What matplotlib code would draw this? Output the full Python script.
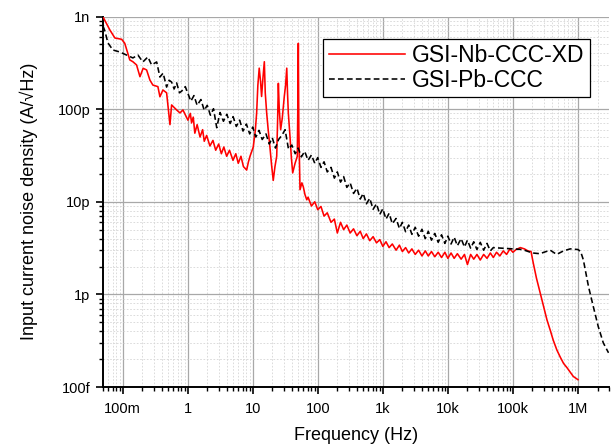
import numpy as np
import matplotlib
matplotlib.use("Agg")
import matplotlib.pyplot as plt
from matplotlib.ticker import LogLocator, NullFormatter

plt.rcParams['font.family'] = ['Liberation Sans', 'DejaVu Sans']

# GSI-Nb-CCC-XD (red), noise in pA/sqrt(Hz)
nb_low_f = [0.05, 0.0638, 0.0762, 0.0966, 0.108, 0.129, 0.144, 0.164, 0.185, 0.207, 0.234,
            0.263, 0.292, 0.349, 0.375, 0.417, 0.475, 0.535, 0.567, 0.677, 0.762, 0.847,
            1.01, 1.1, 1.15, 1.22, 1.29, 1.4, 1.55, 1.7, 1.8, 1.96, 2.2, 2.45, 2.7, 3.0,
            3.3, 3.6, 3.98, 4.4, 4.98, 5.5, 6.0, 6.6, 7.2, 8.08, 8.6]
nb_low_v = [990, 715, 586, 568, 514, 340, 325, 300, 224, 276, 265,
            206, 182, 175, 136, 161, 150, 68, 111, 98, 91, 98,
            76, 90, 71, 82, 55, 68, 50, 60, 45, 52, 40, 46, 36, 42,
            33, 39, 31, 36, 28, 33, 26, 31, 24, 22, 27]
nb_spike_f = [9.1, 10.2, 11.0, 11.5, 12.0, 12.6, 13.2, 13.7, 14.4, 15.1, 15.6, 16.4, 17.3,
              18.4, 19.5, 20.7, 22, 23.4, 24.2, 24.8, 25.6, 26.9, 28.5, 30.6, 32, 33.4,
              34.3, 35.3, 37.5, 39.3, 41.2, 44.8, 48.5, 49.5, 50.3, 51.2, 53.4, 57, 60,
              63.5, 67.8]
nb_spike_v = [31, 39, 60, 91, 180, 277, 200, 137, 220, 325, 150, 91, 60,
              39, 25, 17, 24, 31, 80, 190, 100, 60, 80, 137, 180, 277,
              150, 91, 50, 30, 20.5, 26, 31, 120, 514, 60, 13.5, 16, 14.5,
              12, 10.5]
nb_band_f = [71, 80, 90,
             100, 112, 125, 140, 160, 180, 200, 224, 250, 280, 315, 355, 400, 450, 500,
             560, 630, 710, 800, 900,
             1000, 1120, 1250, 1400, 1600, 1800, 2000, 2240, 2500, 2800, 3150, 3550, 4000,
             4500, 5000, 5600, 6300, 7100, 8000, 9000,
             10000, 11200, 12500, 14000, 16000, 18000, 20000, 22400, 25000, 28000, 31500,
             35500, 40000, 45000, 50000, 56000, 63000, 71000, 80000, 90000,
             100000]
nb_band_v = [11.2, 9.0, 10.0,
             8.2, 8.9, 7.0, 7.6, 6.0, 6.5, 4.6, 6.0, 5.0, 5.6, 4.6, 5.1, 4.3, 4.8, 4.0,
             4.5, 3.8, 4.2, 3.6, 3.9,
             3.3, 3.7, 3.2, 3.5, 3.0, 3.4, 2.9, 3.2, 2.8, 3.1, 2.7, 3.0, 2.6,
             2.95, 2.6, 2.9, 2.55, 2.85, 2.5, 2.85,
             2.45, 2.8, 2.45, 2.75, 2.4, 2.7, 2.1, 2.7, 2.4, 2.7, 2.35,
             2.7, 2.45, 2.8, 2.5, 2.85, 2.6, 2.95, 2.7, 3.1,
             2.85]
nb_roll_f = [112000, 130000, 150000, 170000, 190000, 205000, 230000, 262000, 295000, 334000,
             375000, 417000, 475000, 535000, 600000, 677000, 760000, 848000, 1000000]
nb_roll_v = [3.05, 3.2, 3.1, 2.95, 2.9, 2.2, 1.5, 1.04, 0.74, 0.53,
             0.41, 0.32, 0.25, 0.21, 0.18, 0.162, 0.145, 0.13, 0.12]

# GSI-Pb-CCC (black dashed), noise in pA/sqrt(Hz)
pb_low_f = [0.05, 0.0534, 0.0594, 0.0709, 0.0908, 0.115, 0.144, 0.172, 0.205, 0.245, 0.279,
            0.334, 0.375, 0.42, 0.475, 0.52, 0.567, 0.62, 0.677, 0.75, 0.847, 0.92]
pb_low_v = [790, 700, 520, 435, 414, 384, 357, 384, 323, 366, 300,
            323, 222, 245, 173, 205, 196, 165, 192, 150, 161, 175]
pb_band_f = [1, 1.12, 1.25, 1.4, 1.6, 1.8, 2, 2.24, 2.5, 2.8, 3.15, 3.55, 4, 4.5, 5, 5.6,
             6.3, 7.1, 8, 9,
             10, 11.2, 12.5, 14, 16, 18, 20, 22.4, 25, 28, 31.5, 35.5, 40, 45, 50, 56,
             63, 71, 80, 90,
             100, 112, 125, 140, 160, 180, 200, 224, 250, 280, 315, 355, 400, 450, 500, 560,
             630, 710, 800, 900,
             1000, 1120, 1250, 1400, 1600, 1800, 2000, 2240, 2500, 2800, 3150, 3550, 4000,
             4500, 5000, 5600, 6300, 7100, 8000, 9000,
             10000, 11200, 12500, 14000, 16000, 18000, 20000, 22400, 25000, 28000, 31500,
             35500, 40000, 45000]
pb_band_v = [150, 122, 140, 110, 127, 97, 110, 86, 101, 63, 92, 74, 88, 70, 83, 65,
             76, 58, 69, 54,
             64, 50, 59, 47, 54, 42, 49, 38, 47, 52, 60, 37, 41, 33, 38, 30.5,
             35, 28, 32, 26,
             30, 23.5, 27, 21, 23.5, 18, 21, 16.3, 18.7, 14.3, 16, 12.3, 14, 10.7, 12.3, 9.5,
             10.9, 8.3, 9.5, 7.3,
             8.4, 6.5, 7.5, 5.8, 6.6, 5.15, 6.0, 4.75, 5.6, 4.45, 5.3, 4.25, 5.05,
             4.0, 4.8, 3.85, 4.55, 3.65, 4.4, 3.55,
             4.25, 3.5, 4.15, 3.35, 4.0, 3.25, 3.85, 3.15, 3.7, 3.05, 3.65,
             3.0, 3.55, 2.95]
pb_roll_f = [50000, 56000, 70000, 100000, 140000, 200000, 260000, 300000, 375000, 470000,
             600000, 760000, 1000000, 1100000, 1210000, 1450000, 1720000, 2050000, 2450000,
             2950000]
pb_roll_v = [3.2, 3.18, 3.15, 3.1, 3.05, 2.8, 2.75, 2.85, 3.0, 2.7,
             2.95, 3.1, 3.05, 2.9, 2.36, 1.22, 0.74, 0.45, 0.30, 0.234]

xticks = [0.1, 1, 10, 100, 1e3, 1e4, 1e5, 1e6]
xlabels = ['100m', '1', '10', '100', '1k', '10k', '100k', '1M']
yticks = [1e-13, 1e-12, 1e-11, 1e-10, 1e-9]
ylabels = ['100f', '1p', '10p', '100p', '1n']

nb_f = np.array(nb_low_f + nb_spike_f + nb_band_f + nb_roll_f)
nb_v = np.array(nb_low_v + nb_spike_v + nb_band_v + nb_roll_v) * 1e-12
pb_f = np.array(pb_low_f + pb_band_f + pb_roll_f)
pb_v = np.array(pb_low_v + pb_band_v + pb_roll_v) * 1e-12

fig, ax = plt.subplots(figsize=(6.12, 4.45), dpi=100)
fig.subplots_adjust(left=0.1683, right=0.9951, bottom=0.1303, top=0.9629)

ax.plot(nb_f, nb_v, color='#ff0000', lw=1.15, label='GSI-Nb-CCC-XD', zorder=3)
ax.plot(pb_f, pb_v, color='black', lw=1.15, ls=(0, (3.6, 2)), label='GSI-Pb-CCC', zorder=4)

ax.set_xscale('log')
ax.set_yscale('log')
ax.set_xlim(0.05, 3e6)
ax.set_ylim(1e-13, 1e-9)

ax.set_xticks(xticks)
ax.set_xticklabels(xlabels)
ax.set_yticks(yticks)
ax.set_yticklabels(ylabels)
ax.xaxis.set_minor_locator(LogLocator(base=10, subs=np.arange(2, 10), numticks=30))
ax.yaxis.set_minor_locator(LogLocator(base=10, subs=np.arange(2, 10), numticks=30))
ax.xaxis.set_minor_formatter(NullFormatter())
ax.yaxis.set_minor_formatter(NullFormatter())

ax.tick_params(which='major', direction='out', length=5, width=1.2, labelsize=10.5, pad=4)
ax.tick_params(which='minor', direction='out', length=3, width=1.0)
ax.tick_params(axis='x', which='major', pad=6)

ax.grid(which='major', color='#a8a8a8', lw=0.9)
ax.grid(which='minor', color='#d6d6d6', lw=0.6, ls=(0, (2, 2)))
ax.set_axisbelow(True)

for s in ['top', 'right']:
    ax.spines[s].set_visible(False)
for s in ['left', 'bottom']:
    ax.spines[s].set_linewidth(1.4)

ax.set_xlabel('Frequency (Hz)', fontsize=13, labelpad=8)
ax.set_ylabel('Input current noise density (A/\u221aHz)', fontsize=13, labelpad=14)

leg = ax.legend(loc='upper right', bbox_to_anchor=(0.962, 0.94), borderaxespad=0,
                fontsize=16.5, fancybox=False, framealpha=1, edgecolor='black',
                borderpad=0.25, labelspacing=0.05, handlelength=3.3, handletextpad=0.3)
leg.get_frame().set_linewidth(0.9)

fig.savefig('out.png', dpi=100)
